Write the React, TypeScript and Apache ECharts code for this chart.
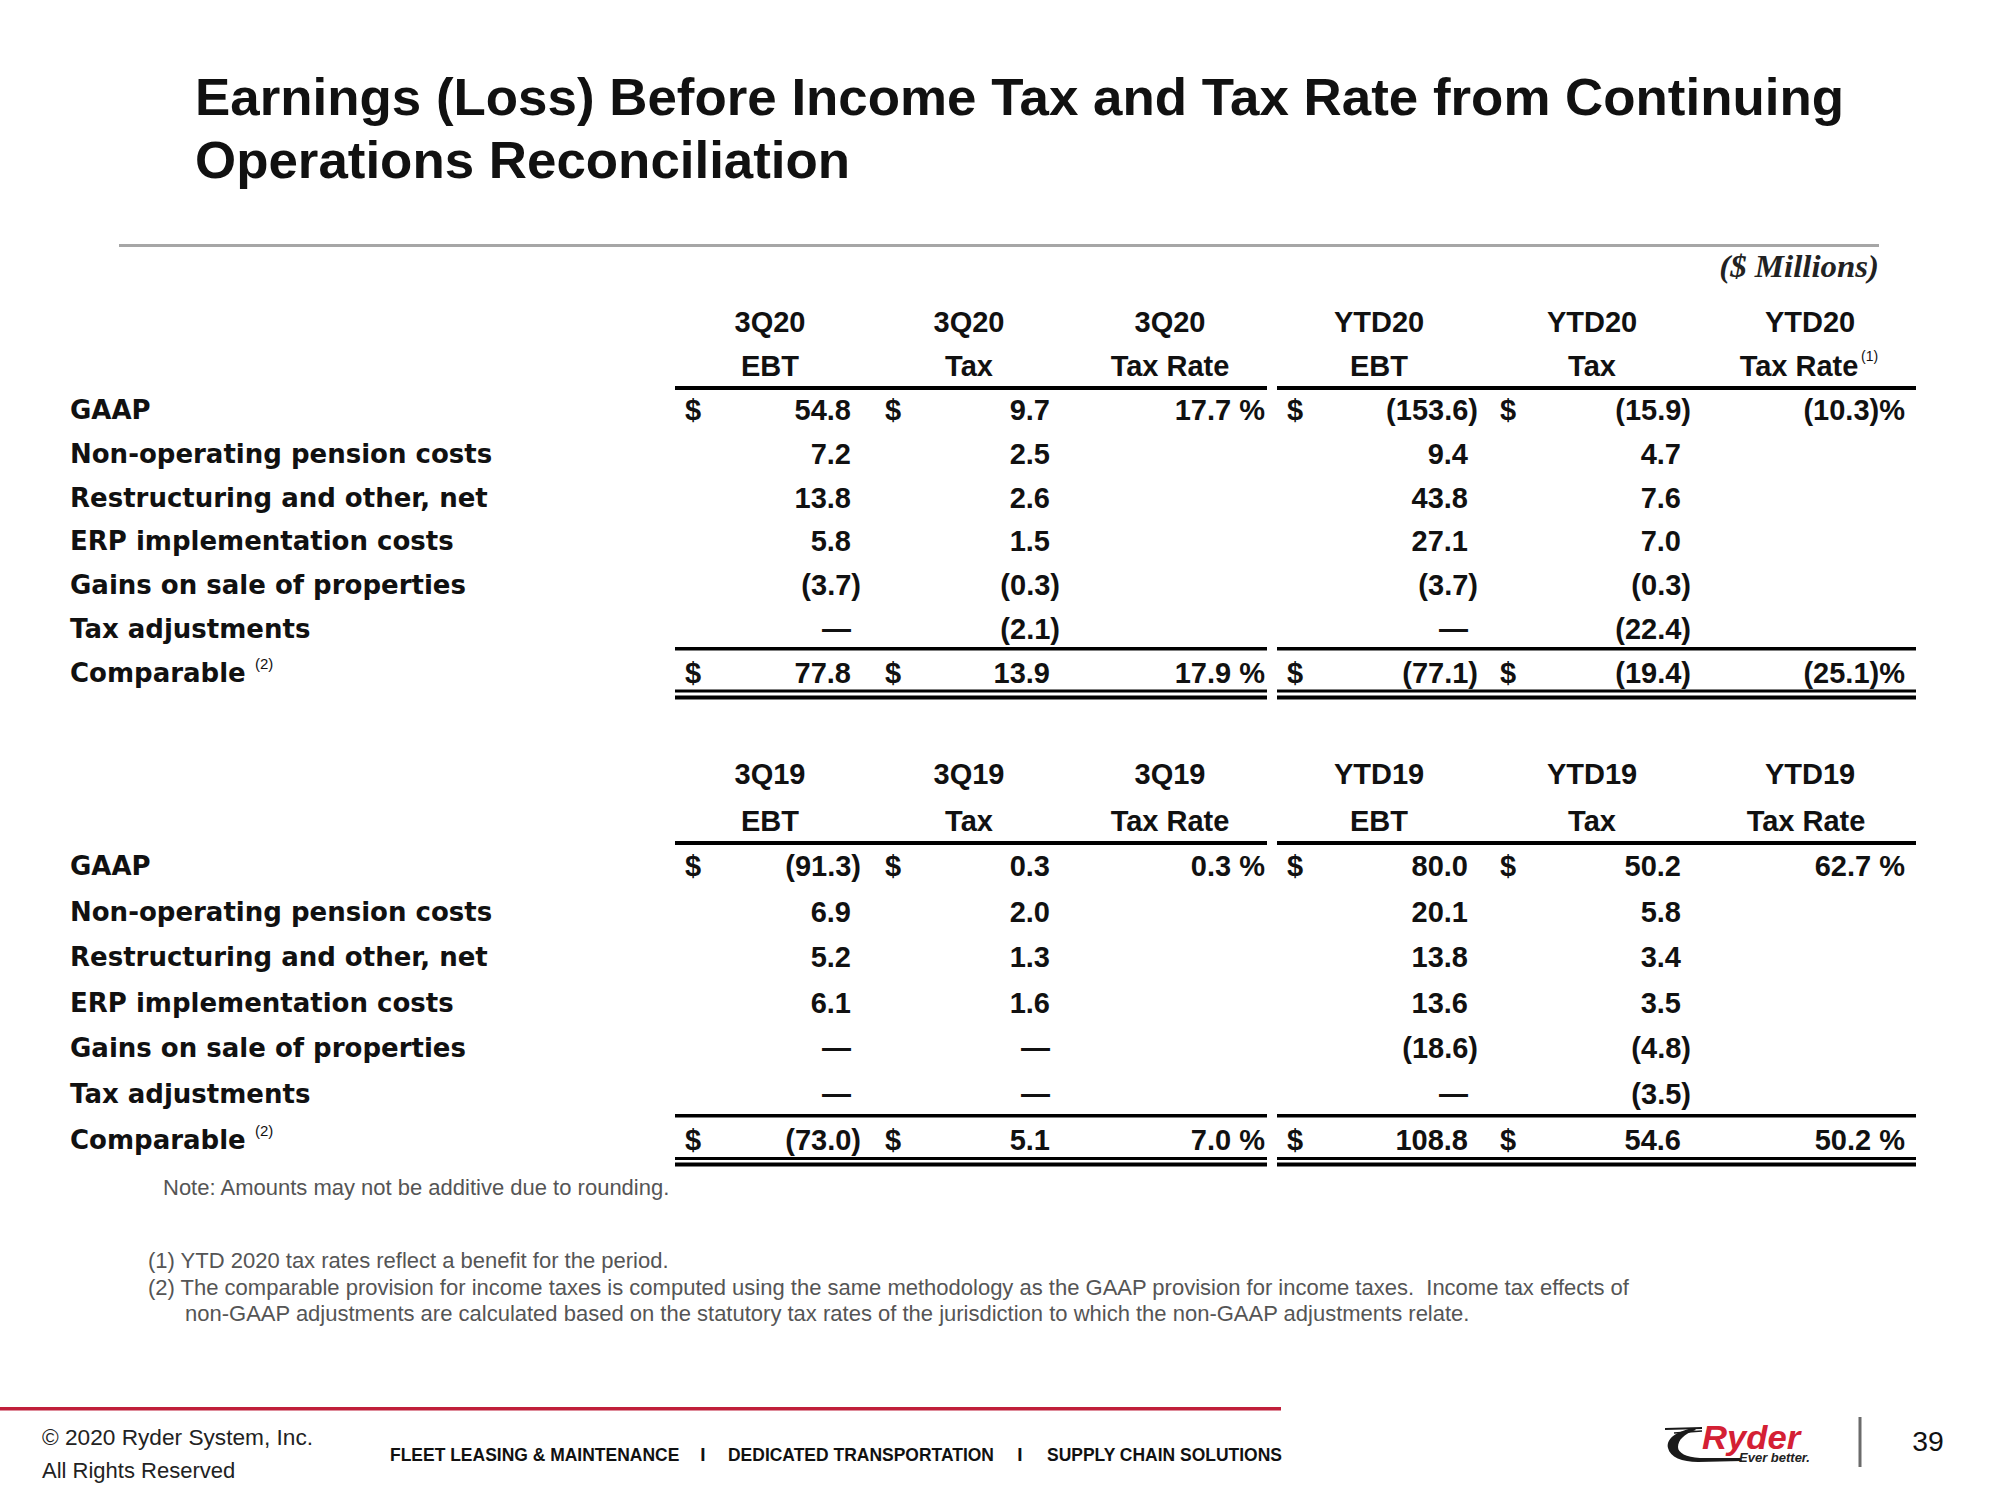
import React, { useEffect, useRef } from 'react';
import * as echarts from 'echarts';

// ---------- DATA ----------
const titleLines = [
  'Earnings (Loss) Before Income Tax and Tax Rate from Continuing',
  'Operations Reconciliation',
];
const unitLabel = '($ Millions)';
const rowLabels = [
  'GAAP',
  'Non-operating pension costs',
  'Restructuring and other, net',
  'ERP implementation costs',
  'Gains on sale of properties',
  'Tax adjustments',
  'Comparable',
];
const headers2020 = [
  ['3Q20', 'EBT'], ['3Q20', 'Tax'], ['3Q20', 'Tax Rate'],
  ['YTD20', 'EBT'], ['YTD20', 'Tax'], ['YTD20', 'Tax Rate'],
];
const headers2019 = [
  ['3Q19', 'EBT'], ['3Q19', 'Tax'], ['3Q19', 'Tax Rate'],
  ['YTD19', 'EBT'], ['YTD19', 'Tax'], ['YTD19', 'Tax Rate'],
];
// 0 is shown as a dash, null as blank
const ebt3Q20 = [54.8, 7.2, 13.8, 5.8, -3.7, 0, 77.8];
const tax3Q20 = [9.7, 2.5, 2.6, 1.5, -0.3, -2.1, 13.9];
const rate3Q20 = [17.7, null, null, null, null, null, 17.9];
const ebtYTD20 = [-153.6, 9.4, 43.8, 27.1, -3.7, 0, -77.1];
const taxYTD20 = [-15.9, 4.7, 7.6, 7.0, -0.3, -22.4, -19.4];
const rateYTD20 = [-10.3, null, null, null, null, null, -25.1];

const ebt3Q19 = [-91.3, 6.9, 5.2, 6.1, 0, 0, -73.0];
const tax3Q19 = [0.3, 2.0, 1.3, 1.6, 0, 0, 5.1];
const rate3Q19 = [0.3, null, null, null, null, null, 7.0];
const ebtYTD19 = [80.0, 20.1, 13.8, 13.6, -18.6, 0, 108.8];
const taxYTD19 = [50.2, 5.8, 3.4, 3.5, -4.8, -3.5, 54.6];
const rateYTD19 = [62.7, null, null, null, null, null, 50.2];

const roundingNote = 'Note: Amounts may not be additive due to rounding.';
const footnotes = [
  '(1) YTD 2020 tax rates reflect a benefit for the period.',
  '(2) The comparable provision for income taxes is computed using the same methodology as the GAAP provision for income taxes.  Income tax effects of',
  'non-GAAP adjustments are calculated based on the statutory tax rates of the jurisdiction to which the non-GAAP adjustments relate.',
];
const copyrightLines = ['\u00A9 2020 Ryder System, Inc.', 'All Rights Reserved'];
const footerDivisions = ['FLEET LEASING & MAINTENANCE', 'DEDICATED TRANSPORTATION', 'SUPPLY CHAIN SOLUTIONS'];
const logoWord = 'Ryder';
const logoTagline = 'Ever better.';
const pageNumber = '39';

// ---------- LAYOUT ----------
const ARIAL = '"Liberation Sans", Arial, Helvetica, sans-serif';
const WIDE = '"DejaVu Sans", Verdana, sans-serif';
const SERIF = '"Liberation Serif", "Times New Roman", serif';
const INK = '#111111';

const headerCenters = [770, 969, 1170, 1379, 1592, 1806];
const amountCols = [
  { kind: 'amt', right: 851, dollar: 685 },
  { kind: 'amt', right: 1050, dollar: 885 },
  { kind: 'rate', right: 1265 },
  { kind: 'amt', right: 1468, dollar: 1287 },
  { kind: 'amt', right: 1681, dollar: 1500 },
  { kind: 'rate', right: 1905 },
];
const segA = [675, 1267];
const segB = [1277, 1916];

function txt(text: string, x: number, y: number, o: any = {}) {
  const size = o.size || 29;
  const weight = o.weight || 'normal';
  const style = o.italic ? 'italic ' : '';
  const align = o.align || 'left';
  const va = o.va || 'middle';
  return {
    type: 'text',
    x,
    y,
    scaleX: o.scaleX || 1,
    silent: true,
    style: {
      text,
      fill: o.fill || INK,
      font: `${style}${weight} ${size}px ${o.family || ARIAL}`,
      align,
      verticalAlign: va,
      textAlign: align,
      textVerticalAlign: va,
    },
  };
}

function bar(x1: number, x2: number, y: number, h: number, fill = '#000') {
  return { type: 'rect', silent: true, shape: { x: x1, y, width: x2 - x1, height: h }, style: { fill } };
}

function fmtAmt(v: number | null) {
  if (v === null) return '';
  if (v === 0) return '\u2014';
  if (v < 0) return `(${Math.abs(v).toFixed(1)})`;
  return v.toFixed(1);
}
function fmtRate(v: number | null) {
  if (v === null) return '';
  if (v < 0) return `(${Math.abs(v).toFixed(1)})%`;
  return `${v.toFixed(1)} %`;
}

function buildSection(
  headers: string[][],
  cols: (number | null)[][],
  cfg: { hy1: number; hy2: number; rowY0: number; rowStep: number; headLine: number; subLine: number; dbl1: number; dbl2: number; sup: boolean }
) {
  const els: any[] = [];
  headers.forEach((h, i) => {
    const cx = headerCenters[i];
    els.push(txt(h[0], i === 5 ? 1810 : cx, cfg.hy1, { weight: 'bold', align: 'center' }));
    if (cfg.sup && i === 5) {
      els.push(txt(h[1], 1799, cfg.hy2, { weight: 'bold', align: 'center' }));
      els.push(txt('(1)', 1861, cfg.hy2 - 10, { size: 14, align: 'left' }));
    } else {
      els.push(txt(h[1], cx, cfg.hy2, { weight: 'bold', align: 'center' }));
    }
  });
  rowLabels.forEach((lab, r) => {
    const y = cfg.rowY0 + r * cfg.rowStep;
    els.push(txt(lab, 70, y, { size: 26, weight: 'bold', family: WIDE }));
    if (r === rowLabels.length - 1) {
      els.push(txt('(2)', 255, y - 9, { size: 15 }));
    }
    cols.forEach((vals, c) => {
      const col = amountCols[c];
      const v = vals[r];
      if (col.kind === 'amt') {
        if ((r === 0 || r === rowLabels.length - 1) && col.dollar !== undefined) {
          els.push(txt('$', col.dollar, y, { weight: 'bold' }));
        }
        const s = fmtAmt(v);
        if (s) {
          const right = v !== null && v < 0 ? col.right + 10 : col.right;
          els.push(txt(s, right, y, { weight: 'bold', align: 'right' }));
        }
      } else {
        const s = fmtRate(v);
        if (s) els.push(txt(s, col.right, y, { weight: 'bold', align: 'right' }));
      }
    });
  });
  [segA, segB].forEach((seg) => {
    els.push(bar(seg[0], seg[1], cfg.headLine, 4));
    els.push(bar(seg[0], seg[1], cfg.subLine, 3.5));
    els.push(bar(seg[0], seg[1], cfg.dbl1, 3));
    els.push(bar(seg[0], seg[1], cfg.dbl2, 4));
  });
  return els;
}

const swooshPath =
  'M30 4 C12 7 2 15 4 24 C6 33 18 38 34 38 L78 37 L76 34 L36 34 C22 33 14 29 14 23 C14 16 20 10 32 6 Z';
echarts.graphic.registerShape('ryderSwoosh', echarts.graphic.extendPath(swooshPath, {}) as any);

function buildOption() {
  const els: any[] = [];
  els.push({ type: 'rect', silent: true, shape: { x: 0, y: 0, width: 2000, height: 1500 }, style: { fill: '#ffffff' } });

  // title
  els.push(txt(titleLines[0], 195, 97, { size: 51, weight: 'bold', scaleX: 1.037 }));
  els.push(txt(titleLines[1], 195, 160, { size: 51, weight: 'bold', scaleX: 1.037 }));
  els.push(bar(119, 1879, 244, 3, '#a6a6a6'));
  els.push(txt(unitLabel, 1879, 267, { size: 31, weight: 'bold', italic: true, family: SERIF, align: 'right', fill: '#222', scaleX: 1.06 }));

  els.push(
    ...buildSection(headers2020, [ebt3Q20, tax3Q20, rate3Q20, ebtYTD20, taxYTD20, rateYTD20], {
      hy1: 322, hy2: 366, rowY0: 410, rowStep: 43.8, headLine: 386, subLine: 647, dbl1: 689.5, dbl2: 695.5, sup: true,
    })
  );
  els.push(
    ...buildSection(headers2019, [ebt3Q19, tax3Q19, rate3Q19, ebtYTD19, taxYTD19, rateYTD19], {
      hy1: 774, hy2: 821, rowY0: 866, rowStep: 45.6, headLine: 841, subLine: 1114, dbl1: 1157, dbl2: 1162.5, sup: false,
    })
  );

  els.push(txt(roundingNote, 163, 1187, { size: 22, fill: '#555' }));
  els.push(txt(footnotes[0], 148, 1260, { size: 22, fill: '#555' }));
  els.push(txt(footnotes[1], 148, 1287, { size: 22, fill: '#555' }));
  els.push(txt(footnotes[2], 185, 1313, { size: 22, fill: '#555' }));

  // footer
  els.push(bar(0, 1281, 1407, 3.5, '#c01f3a'));
  els.push(txt(copyrightLines[0], 42, 1438, { size: 22, fill: '#222', scaleX: 1.03 }));
  els.push(txt(copyrightLines[1], 42, 1470, { size: 22, fill: '#222' }));
  const divX = [390, 728, 1047];
  footerDivisions.forEach((d, i) => {
    els.push(txt(d, divX[i], 1454, { size: 19, weight: 'bold', scaleX: 0.92 }));
  });
  els.push(txt('I', 703, 1454, { size: 19, weight: 'bold', align: 'center' }));
  els.push(txt('I', 1020, 1454, { size: 19, weight: 'bold', align: 'center' }));

  // logo
  els.push({ type: 'ryderSwoosh', x: 1664, y: 1424, silent: true, style: { fill: '#1a1a1a' } });
  els.push({ type: 'line', silent: true, shape: { x1: 1665, y1: 1429, x2: 1702, y2: 1428 }, style: { stroke: '#1a1a1a', lineWidth: 2 } });
  els.push({ type: 'line', silent: true, shape: { x1: 1674, y1: 1433, x2: 1702, y2: 1431 }, style: { stroke: '#1a1a1a', lineWidth: 1.5 } });
  els.push(txt(logoWord, 1702, 1437, { size: 33, weight: 900, italic: true, fill: '#d42034', scaleX: 1.05 }));
  els.push(txt(logoTagline, 1739, 1457, { size: 13, weight: 'bold', italic: true, fill: '#222' }));
  els.push({ type: 'line', silent: true, shape: { x1: 1860, y1: 1417, x2: 1860, y2: 1467 }, style: { stroke: '#6b6b6b', lineWidth: 3 } });
  els.push(txt(pageNumber, 1928, 1442, { size: 27, align: 'center', fill: '#111', scaleX: 1.05 }));

  return {
    animation: false,
    backgroundColor: '#ffffff',
    graphic: { elements: els },
  };
}

export default function App() {
  const ref = useRef<HTMLDivElement>(null);
  useEffect(() => {
    if (!ref.current) return;
    const chart = echarts.init(ref.current, undefined, { renderer: 'svg', width: 2000, height: 1500 });
    chart.setOption(buildOption() as any);
    return () => chart.dispose();
  }, []);
  return (
    <div
      ref={ref}
      style={{ position: 'fixed', left: 0, top: 0, width: 2000, height: 1500, background: '#fff' }}
    />
  );
}
